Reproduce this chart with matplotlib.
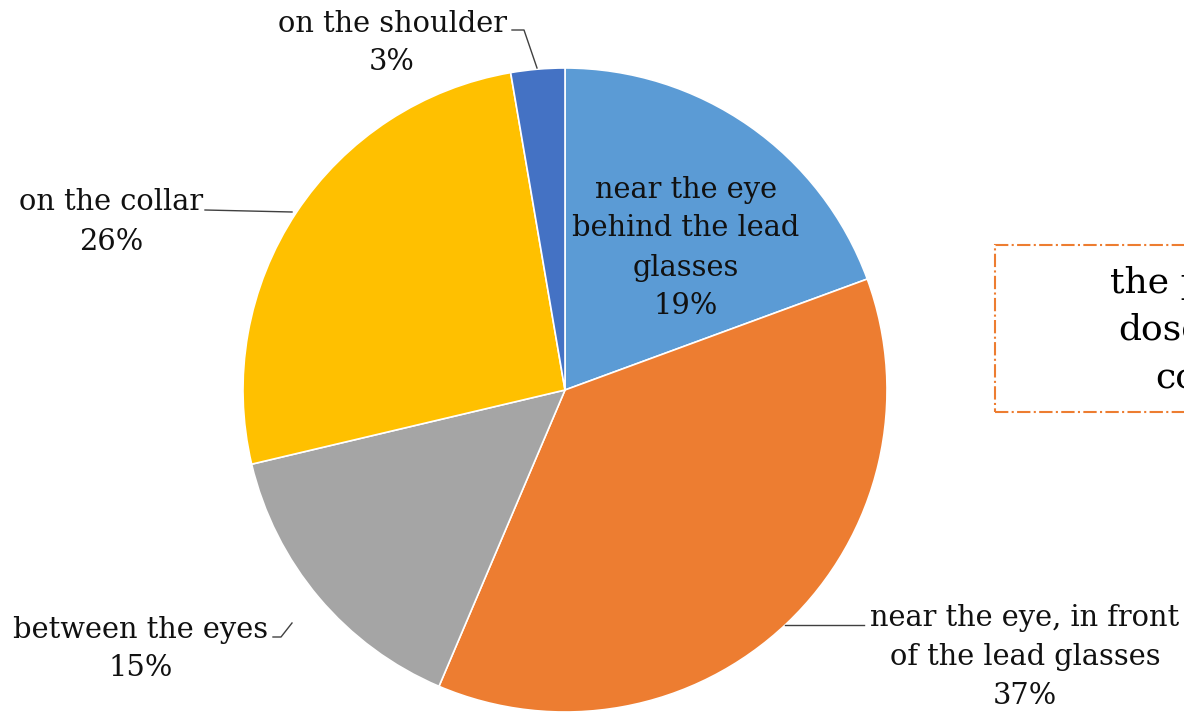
import matplotlib.pyplot as plt
from matplotlib.patches import Rectangle

# slice data (clockwise from 12 o'clock)
labels = ["near the eye\nbehind the lead\nglasses", "near the eye, in front\nof the lead glasses",
          "between the eyes", "on the collar", "on the shoulder"]
values = [19.4, 37.0, 14.9, 26.0, 2.7]
pct_text = ["19%", "37%", "15%", "26%", "3%"]
colors = ["#5B9BD5", "#ED7D31", "#A5A5A5", "#FFC000", "#4472C4"]
box_lines = ["the position of", "dosemeter", "collar"]

plt.rcParams["font.family"] = ["DejaVu Serif"]
W, H = 1184, 714
fig = plt.figure(figsize=(W / 100, H / 100), dpi=100)
ax = fig.add_axes([0, 0, 1, 1])

cx, cy, r = 565, H - 390, 322
ax.pie(values, colors=colors, startangle=90, counterclock=False,
       center=(cx, cy), radius=r, frame=True,
       wedgeprops=dict(edgecolor="white", linewidth=1.2))
ax.set_xlim(0, W)
ax.set_ylim(0, H)
ax.set_aspect("equal")
ax.axis("off")

fs = 20.8
ls = 1.5
tc = "#111111"
def y(v):
    return H - v

# inside label for first slice
ax.text(686, y(248), labels[0] + "\n" + pct_text[0], ha="center", va="center",
        fontsize=fs, color=tc, linespacing=ls)

# outside labels with leader lines
lc = "#404040"
ax.text(1025, y(657), labels[1] + "\n" + pct_text[1], ha="center", va="center",
        fontsize=fs, color=tc, linespacing=ls)
ax.plot([785, 864], [y(625), y(625)], color=lc, lw=1)

ax.text(141, y(649), labels[2] + "\n" + pct_text[2], ha="center", va="center",
        fontsize=fs, color=tc, linespacing=ls)
ax.plot([273, 281, 292], [y(637), y(637), y(623)], color=lc, lw=1)

ax.text(111, y(222), labels[3] + "\n" + pct_text[3], ha="center", va="center",
        fontsize=fs, color=tc, linespacing=ls)
ax.plot([205, 292], [y(210), y(212)], color=lc, lw=1)

ax.text(392, y(43), labels[4] + "\n" + pct_text[4], ha="center", va="center",
        fontsize=fs, color=tc, linespacing=ls)
ax.plot([512, 524, 537], [y(30), y(30), y(68)], color=lc, lw=1)

# text box on the right, cut by the picture edge as in the source
ax.add_patch(Rectangle((995, y(412)), 260, 167, fill=False, edgecolor="#ED7D31",
                       lw=1.5, linestyle="-."))
for txt, x0, yy in zip(box_lines, [1110, 1118, 1155], [283, 330, 378]):
    ax.text(x0, y(yy), txt, ha="left", va="center", fontsize=26, color="black")

fig.savefig("out.png", dpi=100)
